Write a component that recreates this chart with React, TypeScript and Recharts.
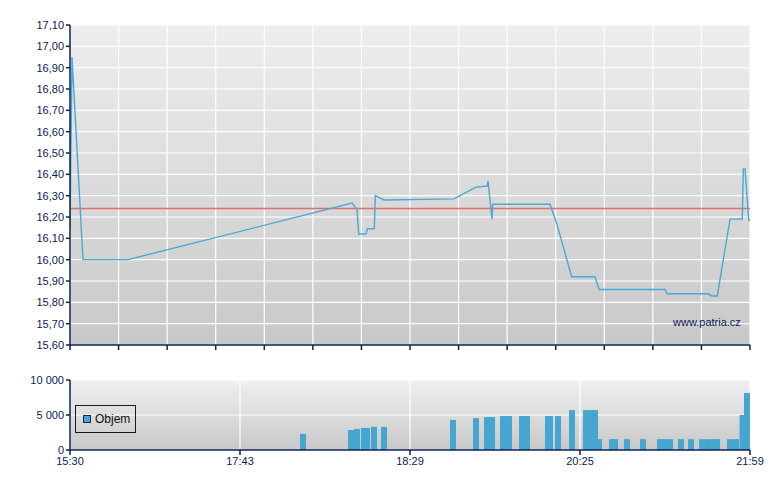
import React from 'react';
import {
  LineChart,
  Line,
  XAxis,
  YAxis,
  CartesianGrid,
  ReferenceLine,
  BarChart,
  Bar,
  Legend,
} from 'recharts';

// ---- data ----
// x positions are in chart "slots" (the axis spans 112 slots, not linear time)
const priceX = [0, 0.33, 2.14, 9.55, 46.45, 47.27, 47.55, 48.75, 48.97, 50.12, 50.29, 51.72, 63.25, 66.87, 68.73, 68.85, 69.51, 69.62, 79.06, 80.16, 82.63, 86.47, 87.13, 98.0, 98.38, 105.13, 105.69, 106.61, 108.71, 110.73, 110.9, 111.18, 111.79, 112];
const priceY = [16.14, 16.95, 16.0, 16.0, 16.265, 16.235, 16.12, 16.12, 16.145, 16.145, 16.3, 16.28, 16.285, 16.34, 16.345, 16.37, 16.19, 16.26, 16.26, 16.17, 15.92, 15.92, 15.86, 15.86, 15.84, 15.84, 15.83, 15.83, 16.19, 16.19, 16.425, 16.425, 16.185, 16.185];
const prevClose = 16.24;

const volX = [38.38, 46.28, 47.27, 48.42, 48.92, 50.07, 51.72, 63.08, 66.87, 68.68, 69.51, 71.32, 72.31, 74.45, 75.27, 78.73, 79.06, 80.38, 82.68, 84.99, 85.98, 86.47, 87.13, 89.27, 89.77, 91.74, 94.38, 97.18, 98.0, 98.83, 100.64, 102.29, 104.1, 105.09, 106.08, 106.57, 108.71, 109.7, 110.77, 111.5];
const volY = [2300, 2850, 3000, 3150, 3150, 3300, 3300, 4300, 4550, 4700, 4700, 4850, 4850, 4850, 4850, 4850, 4850, 4850, 5700, 5700, 5700, 5700, 1550, 1550, 1550, 1550, 1550, 1550, 1550, 1550, 1550, 1550, 1550, 1550, 1550, 1550, 1550, 1550, 5000, 8150];

const slotCount = 112;
const priceTicks = [15.6, 15.7, 15.8, 15.9, 16.0, 16.1, 16.2, 16.3, 16.4, 16.5, 16.6, 16.7, 16.8, 16.9, 17.0, 17.1];
const topXTicks = [0, 8, 16, 24, 32, 40, 48, 56, 64, 72, 80, 88, 96, 104, 112];
const timeTickPos = [0, 28, 56, 84, 112];
const timeTickLabels = ['15:30', '17:43', '18:29', '20:25', '21:59'];
const volTicks = [0, 5000, 10000];
const seriesName = 'Objem';
const watermark = 'www.patria.cz';

const priceData = priceX.map((x, i) => ({ slot: x, price: priceY[i] }));
const volData = volX.map((x, i) => ({ slot: x, volume: volY[i] }));

// ---- styles ----
const NAVY = '#0b2257';
const FONT = '"Liberation Sans", Arial, sans-serif';
const LINE_BLUE = '#4aa8d6';
const BAR_BLUE = '#47a6cf';

const tickStyle = { fill: NAVY, fontSize: 11, fontFamily: FONT };

const VolBar = (props: any) => {
  const { x, y, width, height, fill } = props;
  if (height == null || isNaN(height) || height <= 0) return null;
  const cx = x + width / 2;
  return <rect x={cx - 3} y={y} width={6} height={height} fill={fill} />;
};

const LegendBox = (props: any) => {
  const name = props && props.payload && props.payload[0] ? props.payload[0].value : seriesName;
  return (
    <div
      style={{
        width: 61,
        height: 28,
        boxSizing: 'border-box',
        border: '1px solid #1a1a1a',
        display: 'flex',
        alignItems: 'center',
        paddingLeft: 7,
        fontFamily: FONT,
        fontSize: 12,
        color: '#111',
      }}
    >
      <span
        style={{
          display: 'inline-block',
          width: 8,
          height: 8,
          boxSizing: 'border-box',
          border: '1px solid #1a2a40',
          background: BAR_BLUE,
          marginRight: 4,
        }}
      />
      <span>{name}</span>
    </div>
  );
};

const fmtPrice = (v: number) => v.toFixed(2).replace('.', ',');
const fmtVol = (v: number) => String(v).replace(/\B(?=(\d{3})+(?!\d))/g, ' ');
const fmtTime = (v: number) => {
  const i = timeTickPos.indexOf(v);
  return i >= 0 ? timeTickLabels[i] : '';
};

export default function App() {
  return (
    <div style={{ position: 'relative', width: 780, height: 490, background: '#fff' }}>
      <style>{`body{margin:0}`}</style>
      <div style={{ position: 'absolute', left: 0, top: 0 }}>
        <LineChart
          width={780}
          height={360}
          data={priceData}
          margin={{ top: 25, right: 30, bottom: 5, left: 0 }}
        >
          <defs>
            <linearGradient id="topBg" x1="0" y1="0" x2="0" y2="1">
              <stop offset="0%" stopColor="#eeeeee" />
              <stop offset="100%" stopColor="#c8c8c8" />
            </linearGradient>
          </defs>
          <CartesianGrid stroke="#ffffff" strokeWidth={1.2} fill="url(#topBg)" fillOpacity={1} />
          <XAxis
            dataKey="slot"
            type="number"
            domain={[0, slotCount]}
            ticks={topXTicks}
            interval={0}
            height={10}
            tickSize={5}
            tickFormatter={() => ''}
            axisLine={{ stroke: NAVY, strokeWidth: 1.5 }}
            tickLine={{ stroke: NAVY, strokeWidth: 1.5 }}
            allowDataOverflow
          />
          <YAxis
            type="number"
            domain={[15.6, 17.1]}
            ticks={priceTicks}
            interval={0}
            width={70}
            tickSize={4}
            tickFormatter={fmtPrice}
            tick={tickStyle}
            axisLine={{ stroke: NAVY, strokeWidth: 1.5 }}
            tickLine={{ stroke: NAVY, strokeWidth: 1.5 }}
            allowDataOverflow
          />
          <ReferenceLine y={prevClose} stroke="#e07070" strokeWidth={1.5} />
          <Line
            type="linear"
            dataKey="price"
            stroke={LINE_BLUE}
            strokeWidth={1.4}
            dot={false}
            isAnimationActive={false}
          />
        </LineChart>
      </div>
      <div
        style={{
          position: 'absolute',
          left: 673,
          top: 316,
          fontFamily: FONT,
          fontSize: 11,
          color: NAVY,
        }}
      >
        {watermark}
      </div>
      <div style={{ position: 'absolute', left: 0, top: 360 }}>
        <BarChart
          width={780}
          height={130}
          data={volData}
          margin={{ top: 20, right: 30, bottom: 10, left: 0 }}
          barCategoryGap={0}
          barGap={0}
        >
          <defs>
            <linearGradient id="botBg" x1="0" y1="0" x2="0" y2="1">
              <stop offset="0%" stopColor="#f0f0f0" />
              <stop offset="100%" stopColor="#c8c8c8" />
            </linearGradient>
          </defs>
          <CartesianGrid stroke="#ffffff" strokeWidth={1.2} fill="url(#botBg)" fillOpacity={1} />
          <XAxis
            dataKey="slot"
            type="number"
            domain={[0, slotCount]}
            ticks={timeTickPos}
            interval={0}
            height={30}
            tickSize={5}
            tickMargin={2}
            tickFormatter={fmtTime}
            tick={tickStyle}
            axisLine={{ stroke: NAVY, strokeWidth: 1.5 }}
            tickLine={{ stroke: NAVY, strokeWidth: 1.5 }}
            allowDataOverflow
          />
          <YAxis
            type="number"
            domain={[0, 10000]}
            ticks={volTicks}
            interval={0}
            width={70}
            tickSize={4}
            tickFormatter={fmtVol}
            tick={tickStyle}
            axisLine={{ stroke: NAVY, strokeWidth: 1.5 }}
            tickLine={{ stroke: NAVY, strokeWidth: 1.5 }}
            allowDataOverflow
          />
          <Legend
            layout="vertical"
            align="center"
            verticalAlign="middle"
            wrapperStyle={{ left: 75, top: 45, width: 61, height: 28 }}
            content={LegendBox}
          />
          <Bar
            dataKey="volume"
            name={seriesName}
            fill={BAR_BLUE}
            shape={VolBar}
            isAnimationActive={false}
          />
        </BarChart>
      </div>
    </div>
  );
}
